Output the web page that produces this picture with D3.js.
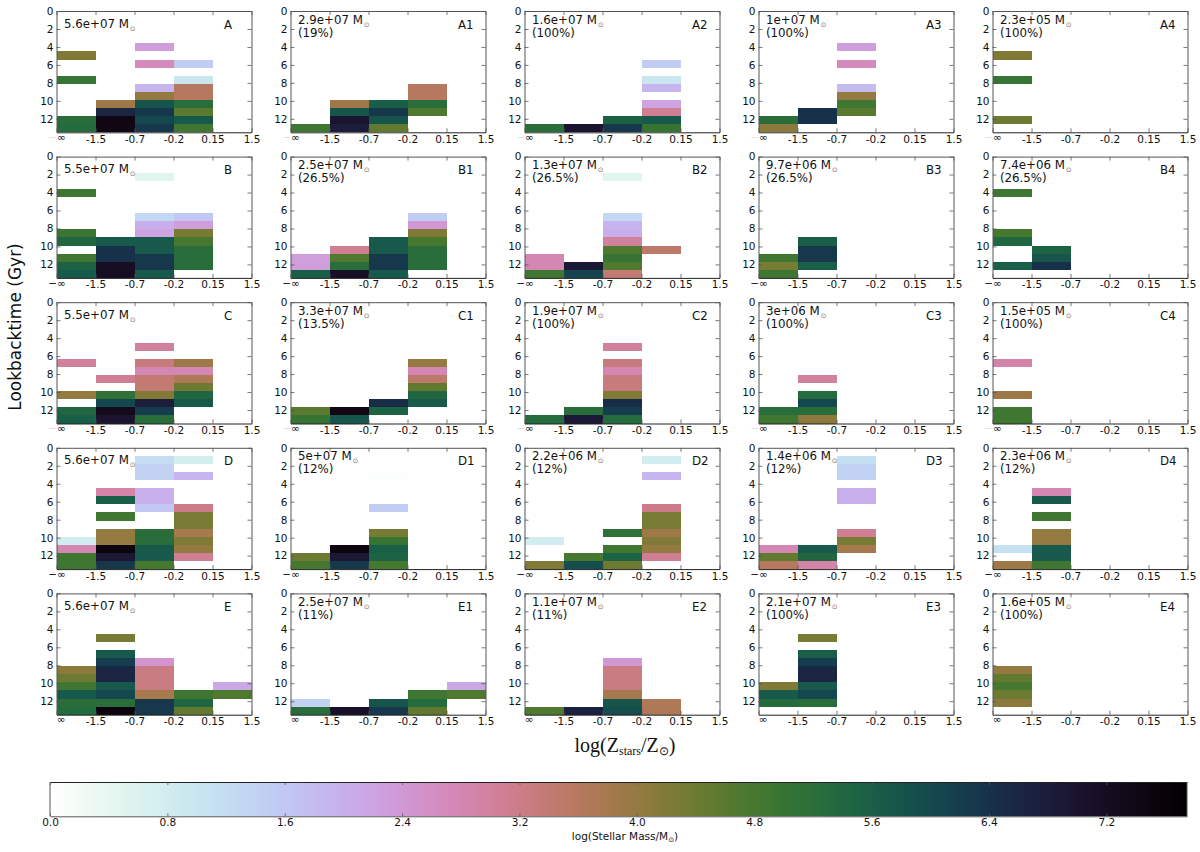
<!DOCTYPE html>
<html>
<head>
<meta charset="utf-8">
<script src="https://cdn.jsdelivr.net/npm/d3@7"></script>
<style>
  html, body { margin: 0; padding: 0; background: #fff; }
  text { font-family: "DejaVu Sans", sans-serif; fill: #111; }
</style>
</head>
<body>
<div class="canvas"></div>
<script>
// metallicity bin edges, age bin edges (Gyr)
const zEdges = ['−∞', '-1.5', '-0.7', '-0.2', '0.15', '1.5']
const ageEdges = [0, 0.9, 1.8, 2.7, 3.6, 4.5, 5.4, 6.3, 7.2, 8.1, 9, 9.9, 10.8, 11.7, 12.6, 13.5]
const ageTicks = [0, 2, 4, 6, 8, 10, 12]
const barTicks = [0, 0.8, 1.6, 2.4, 3.2, 4, 4.8, 5.6, 6.4, 7.2]
const massMax = 7.75

// one row per group, one name per column
const panelNames = [
  ['A', 'A1', 'A2', 'A3', 'A4'],
  ['B', 'B1', 'B2', 'B3', 'B4'],
  ['C', 'C1', 'C2', 'C3', 'C4'],
  ['D', 'D1', 'D2', 'D3', 'D4'],
  ['E', 'E1', 'E2', 'E3', 'E4'],
]
const panelMasses = [
  ['5.6e+07', '2.9e+07', '1.6e+07', '1e+07', '2.3e+05'],
  ['5.5e+07', '2.5e+07', '1.3e+07', '9.7e+06', '7.4e+06'],
  ['5.5e+07', '3.3e+07', '1.9e+07', '3e+06', '1.5e+05'],
  ['5.6e+07', '5e+07', '2.2e+06', '1.4e+06', '2.3e+06'],
  ['5.6e+07', '2.5e+07', '1.1e+07', '2.1e+07', '1.6e+05'],
]
const panelShares = [
  [null, '19%', '100%', '100%', '100%'],
  [null, '26.5%', '26.5%', '26.5%', '26.5%'],
  [null, '13.5%', '100%', '100%', '100%'],
  [null, '12%', '12%', '12%', '12%'],
  [null, '11%', '11%', '100%', '100%'],
]

// cells are [metallicity bin, age bin, log mass]
const cellsA = [[0,5,4.2],[0,8,5],[0,13,5.2],[0,14,5.3],[1,11,3.9],[1,12,6.6],[1,13,7.4],[1,14,7.4],[2,4,2.3],[2,6,2.7],[2,9,1.9],[2,10,4],[2,11,5.8],[2,12,6.3],[2,13,6],[2,14,6.3],[3,6,1.5],[3,8,1],[3,9,3.6],[3,10,3.6],[3,11,5.2],[3,12,4.6],[3,13,5.7],[3,14,4.9]]
const cellsA1 = [[0,14,4.9],[1,11,3.9],[1,12,5.8],[1,13,7],[1,14,6.8],[2,11,5.6],[2,12,6.3],[2,13,5.8],[2,14,4.5],[3,9,3.6],[3,10,3.6],[3,11,5.2],[3,12,4.7]]
const cellsA2 = [[0,14,5.2],[1,14,7],[2,13,5.5],[2,14,6.3],[3,6,1.5],[3,8,1],[3,9,1.9],[3,11,2.2],[3,12,3.1],[3,13,5.7],[3,14,5]]
const cellsA3 = [[0,13,5.2],[0,14,4.1],[1,12,6.4],[1,13,6.4],[2,4,2.3],[2,6,2.7],[2,9,1.8],[2,10,4],[2,11,4.9],[2,12,4.6]]
const cellsA4 = [[0,5,4.2],[0,8,5],[0,13,4.4]]

const cellsB = [[0,4,4.9],[0,9,4.95],[0,10,5.4],[0,12,4.9],[0,13,5.5],[0,14,5.7],[1,10,5.7],[1,11,6.4],[1,12,6.4],[1,13,7.2],[1,14,7.2],[2,2,0.5],[2,7,1.3],[2,8,2],[2,9,2.2],[2,10,5.7],[2,11,5.7],[2,12,6.3],[2,13,6.3],[2,14,5.7],[3,7,1.6],[3,8,2.3],[3,9,4.3],[3,10,4.8],[3,11,5.2],[3,12,5.2],[3,13,5.2]]
const cellsB1 = [[0,12,2.3],[0,13,2.3],[0,14,5.6],[1,11,3.1],[1,12,4.7],[1,13,5.2],[1,14,7.1],[2,10,5.7],[2,11,5.7],[2,12,6.3],[2,13,6.3],[2,14,5.7],[3,7,1.5],[3,8,2.4],[3,9,4.2],[3,10,4.8],[3,11,5.2],[3,12,5.2],[3,13,5.2]]
const cellsB2 = [[0,12,2.8],[0,13,2.8],[0,14,4.9],[1,13,6.9],[1,14,6.1],[2,2,0.5],[2,7,1.3],[2,8,1.9],[2,9,2],[2,10,3],[2,11,4.7],[2,12,5],[2,13,4.7],[2,14,3.4],[3,11,3.5]]
const cellsB3 = [[0,12,4.9],[0,13,4.3],[0,14,4.9],[1,10,5.6],[1,11,6.3],[1,12,6.3],[1,13,5.6]]
const cellsB4 = [[0,4,4.9],[0,9,4.8],[0,10,5.4],[0,13,5.6],[1,11,5.5],[1,12,5.8],[1,13,6.4]]

const cellsC = [[0,7,3],[0,11,4],[0,13,5.4],[0,14,5.6],[1,9,3.1],[1,11,5.1],[1,12,6],[1,13,7.3],[1,14,7],[2,5,3],[2,7,3.3],[2,8,2.8],[2,9,3.4],[2,10,3.4],[2,11,4.2],[2,12,6.8],[2,13,6.2],[2,14,5.2],[3,7,3.9],[3,8,2.8],[3,9,3.7],[3,10,4.4],[3,11,5.4],[3,12,5.7]]
const cellsC1 = [[0,13,4.6],[0,14,5],[1,13,7.4],[1,14,5.8],[2,12,6.5],[2,13,5.5],[3,7,4],[3,8,2.8],[3,9,3.5],[3,10,4.5],[3,11,5.4],[3,12,5.7]]
const cellsC2 = [[0,14,5.3],[1,13,5.2],[1,14,6.9],[2,5,3],[2,7,3.3],[2,8,2.8],[2,9,3.3],[2,10,3.3],[2,11,4.2],[2,12,6.5],[2,13,6.2],[2,14,5.3]]
const cellsC3 = [[0,13,5.2],[0,14,4.9],[1,9,3],[1,11,5.3],[1,12,6],[1,13,5.2],[1,14,4.1]]
const cellsC4 = [[0,7,2.9],[0,11,3.9],[0,13,4.9],[0,14,4.9]]

const cellsD = [[0,11,0.8],[0,12,2.8],[0,13,4.9],[0,14,4.9],[1,5,2.9],[1,6,5.6],[1,8,4.9],[1,10,4],[1,11,4],[1,12,7.5],[1,13,6.9],[1,14,6.3],[2,1,1.2],[2,2,1.4],[2,3,1.4],[2,5,2],[2,6,2],[2,7,1.6],[2,10,5.2],[2,11,5.2],[2,12,5.7],[2,13,5.7],[2,14,4.8],[3,1,0.75],[3,3,1.9],[3,7,3.2],[3,8,4.3],[3,9,4.3],[3,10,3.8],[3,11,4.2],[3,12,4],[3,13,3.1]]
const cellsD1 = [[0,13,4.4],[0,14,4.8],[1,12,7.5],[1,13,6.9],[1,14,6.3],[2,3,0.05],[2,7,1.5],[2,10,4.3],[2,11,5],[2,12,5.6],[2,13,5.5],[2,14,4.8]]
const cellsD2 = [[0,11,0.8],[0,14,4.2],[1,13,4.8],[1,14,5.9],[2,10,5.1],[2,12,4.9],[2,13,5.5],[2,14,4.4],[3,1,0.8],[3,3,1.9],[3,7,3.2],[3,8,4.3],[3,9,4.3],[3,10,3.9],[3,11,4.2],[3,12,4],[3,13,3.1]]
const cellsD3 = [[0,12,2.8],[0,13,4.5],[0,14,3.6],[1,12,5.7],[1,13,5.4],[1,14,2.9],[2,1,1.15],[2,2,1.4],[2,3,1.4],[2,5,2],[2,6,2],[2,10,3.1],[2,11,4.3],[2,12,3.8]]
const cellsD4 = [[0,12,1.1],[0,14,3.9],[1,5,2.8],[1,6,5.7],[1,8,4.9],[1,10,4],[1,11,4],[1,12,5.7],[1,13,5.7],[1,14,4.9]]

const cellsE = [[0,9,4.1],[0,10,4.4],[0,11,4.9],[0,12,5.7],[0,13,5.2],[0,14,5.3],[1,5,4.3],[1,7,5.7],[1,8,6.2],[1,9,6.6],[1,10,6.6],[1,11,5.7],[1,12,6],[1,13,5.2],[1,14,7.5],[2,8,2.5],[2,9,3.25],[2,10,3.25],[2,11,3.25],[2,12,3.8],[2,13,6.3],[2,14,6.3],[3,12,4.9],[3,13,5.4],[3,14,4.5],[4,11,2.1],[4,12,4.7]]
const cellsE1 = [[0,13,1.4],[0,14,5.2],[1,14,7.1],[2,13,5.8],[2,14,6.3],[3,12,4.9],[3,13,5.3],[3,14,4.5],[4,11,2.1],[4,12,4.7]]
const cellsE2 = [[0,14,4.7],[1,14,6.7],[2,8,2.4],[2,9,3.25],[2,10,3.25],[2,11,3.25],[2,12,3.8],[2,13,5.8],[2,14,5.9],[3,13,3.7],[3,14,3.7]]
const cellsE3 = [[0,11,4.2],[0,12,5.7],[0,13,5.3],[1,5,4.3],[1,7,5.6],[1,8,6.2],[1,9,6.6],[1,10,6.6],[1,11,5.7],[1,12,6],[1,13,5.2]]
const cellsE4 = [[0,9,4],[0,10,4.5],[0,11,4.8],[0,12,4.4],[0,13,4.1]]

const panelCells = [
  [cellsA, cellsA1, cellsA2, cellsA3, cellsA4],
  [cellsB, cellsB1, cellsB2, cellsB3, cellsB4],
  [cellsC, cellsC1, cellsC2, cellsC3, cellsC4],
  [cellsD, cellsD1, cellsD2, cellsD3, cellsD4],
  [cellsE, cellsE1, cellsE2, cellsE3, cellsE4],
]

const svg = d3.select('.canvas')
  .append('svg')
  .attr('width', 1200)
  .attr('height', 852)
  .style('display', 'block')

const panelW = 195
const panelH = 121.3
const frameColor = '#555'
const baseColor = '#222'

// cubehelix, reversed so that low masses are white
const color = d3.scaleSequential(v => d3.interpolateCubehelixDefault(1 - v)).domain([0, massMax])

const x = d3.scalePoint().domain(zEdges).range([0, panelW])
const y = d3.scaleLinear().domain([0, 13.5]).range([0, panelH])

// the minus of the first label is faint in rows A and C, and cropped away in row E
const minusOpacity = [0.15, 1, 0.15, 1, 0]

function styleAxis(g, stroke = frameColor) {
  g.selectAll('.domain').attr('stroke', stroke).attr('stroke-width', 1)
  g.selectAll('.tick line').attr('stroke', frameColor).attr('stroke-width', 0.8)
  g.selectAll('text').style('font-size', '10.5px')
}

panelNames.forEach((rowNames, r) => {
  rowNames.forEach((name, c) => {
    const graph = svg.append('g')
      .attr('transform', `translate(${56.5 + 234 * c}, ${11 + 145.6 * r})`)

    graph.selectAll('rect')
      .data(panelCells[r][c])
      .enter()
      .append('rect')
      .attr('x', d => x(zEdges[d[0]]))
      .attr('y', d => y(ageEdges[d[1]]))
      .attr('width', d => x(zEdges[d[0] + 1]) - x(zEdges[d[0]]))
      .attr('height', d => y(ageEdges[d[1] + 1]) - y(ageEdges[d[1]]))
      .attr('fill', d => color(d[2]))
      .attr('shape-rendering', 'crispEdges')

    graph.append('g')
      .call(d3.axisLeft(y).tickValues(ageTicks).tickSizeOuter(0).tickSizeInner(-4).tickPadding(3))
      .call(styleAxis)
    graph.append('g')
      .call(d3.axisTop(x).tickSizeOuter(0).tickSizeInner(-4).tickFormat(''))
      .call(styleAxis)
    graph.append('g')
      .attr('transform', `translate(${panelW}, 0)`)
      .call(d3.axisRight(y).tickValues(ageTicks).tickSizeOuter(0).tickSizeInner(-4).tickFormat(''))
      .call(styleAxis)
    const bottom = graph.append('g')
      .attr('transform', `translate(0, ${panelH})`)
      .call(d3.axisBottom(x).tickSizeOuter(0).tickSizeInner(-4).tickPadding(3))
      .call(styleAxis, baseColor)

    // first metallicity label
    const infLabel = bottom.selectAll('.tick text').filter(d => d === zEdges[0])
    infLabel.text(null).attr('dy', '0.55em')
    if (minusOpacity[r] > 0) {
      infLabel.append('tspan').attr('fill-opacity', minusOpacity[r]).text('−')
      infLabel.append('tspan').text('∞')
    } else {
      infLabel.attr('x', 4).text('∞')
    }

    // mass of the panel, with its share below when there is one
    const share = panelShares[r][c]
    const massLabel = graph.append('text')
      .attr('x', 7.5)
      .attr('y', share ? 12.6 : 16.7)
      .style('font-size', '11.8px')
    massLabel.append('tspan').text(panelMasses[r][c] + ' M')
    massLabel.append('tspan')
      .attr('dx', 1)
      .attr('dy', 3)
      .style('font-size', '7px')
      .style('fill', '#777')
      .text('⊙')
    if (share) {
      graph.append('text')
        .attr('x', 7.5)
        .attr('y', 25.5)
        .style('font-size', '11.8px')
        .text(`(${share})`)
    }

    graph.append('text')
      .attr('x', 167.5)
      .attr('y', 17.5)
      .style('font-size', '11.8px')
      .text(name)
  })
})

// axis titles
svg.append('text')
  .attr('transform', 'translate(21, 327) rotate(-90)')
  .attr('text-anchor', 'middle')
  .style('font-size', '17px')
  .text('Lookbacktime (Gyr)')

const xTitle = svg.append('text')
  .attr('x', 625)
  .attr('y', 752)
  .attr('text-anchor', 'middle')
  .style('font-family', '"Liberation Serif", serif')
  .style('font-size', '20px')
xTitle.append('tspan').text('log(Z')
xTitle.append('tspan').attr('dy', 3).style('font-size', '12px').text('stars')
xTitle.append('tspan').attr('dy', -3).text('/Z')
xTitle.append('tspan').attr('dy', 3).style('font-size', '12px').text('⊙')
xTitle.append('tspan').attr('dy', -3).text(')')

// colour bar
const barX = d3.scaleLinear().domain([0, massMax]).range([50, 1187])
const barTop = 782
const barH = 34.3

const gradient = svg.append('defs')
  .append('linearGradient')
  .attr('id', 'massGradient')
gradient.selectAll('stop')
  .data(d3.range(0, 1.0001, 0.02))
  .enter()
  .append('stop')
  .attr('offset', d => d)
  .attr('stop-color', d => color(d * massMax))

svg.append('rect')
  .attr('x', barX(0))
  .attr('y', barTop)
  .attr('width', barX(massMax) - barX(0))
  .attr('height', barH)
  .attr('fill', 'url(#massGradient)')

svg.append('g')
  .attr('transform', `translate(0, ${barTop + barH})`)
  .call(d3.axisBottom(barX).tickValues(barTicks).tickFormat(d3.format('.1f')).tickSizeOuter(0).tickSizeInner(-3).tickPadding(2))
  .call(styleAxis)
svg.append('g')
  .attr('transform', `translate(0, ${barTop})`)
  .call(d3.axisTop(barX).tickValues(barTicks).tickFormat('').tickSizeOuter(0).tickSizeInner(-3))
  .call(styleAxis, baseColor)
svg.append('line')
  .attr('x1', barX(0)).attr('x2', barX(0))
  .attr('y1', barTop).attr('y2', barTop + barH)
  .attr('stroke', frameColor)
svg.append('line')
  .attr('x1', barX(massMax)).attr('x2', barX(massMax))
  .attr('y1', barTop).attr('y2', barTop + barH)
  .attr('stroke', frameColor)

const barTitle = svg.append('text')
  .attr('x', 625)
  .attr('y', 840)
  .attr('text-anchor', 'middle')
  .style('font-size', '10.5px')
barTitle.append('tspan').text('log(Stellar Mass/M')
barTitle.append('tspan').attr('dy', 2).style('font-size', '7px').text('⊙')
barTitle.append('tspan').attr('dy', -2).text(')')
</script>
</body>
</html>
